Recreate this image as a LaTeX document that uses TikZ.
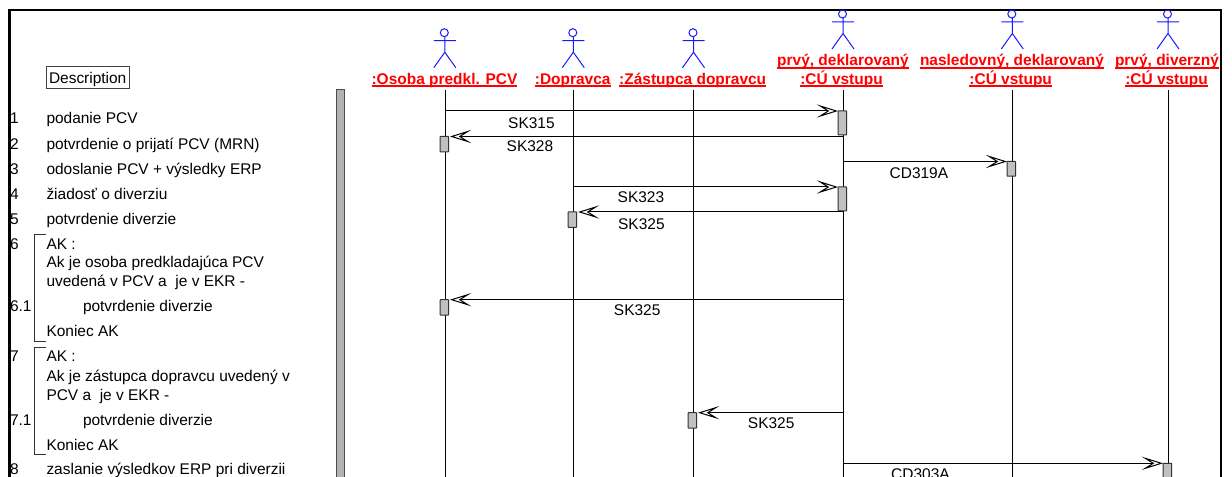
\documentclass[tikz,border=0pt]{standalone}
\usepackage{fontspec}
\setmainfont{Liberation Sans}
\usetikzlibrary{arrows.meta}
\definecolor{barfill}{RGB}{178,178,178}
\definecolor{actfill}{RGB}{192,192,192}
\tikzset{stick/.pic={
		\draw[blue!90!white, line width=0.75pt] (-0.5,0) circle (4);
		\draw[blue!90!white, line width=0.75pt] (0,4) -- (0,19.5) (-11,8) -- (11,8) (-11,35) -- (0,19.5) -- (11,35);
	}}
\tikzset{txt/.style={anchor=base west, inner sep=0, outer sep=0}}
\tikzset{objlbl/.style={anchor=base, inner sep=0, outer sep=0, text=red, font=\fontsize{11.6}{14}\selectfont\bfseries}}
\tikzset{lifeline/.style={draw, line width=0.75pt}}
\tikzset{actbox/.style={draw=black!80, fill=actfill, line width=0.75pt, inner sep=0, outer sep=0, minimum width=6.5pt, rounded corners=0.4pt, anchor=north west}}
\tikzset{msg/.style={draw, line width=0.75pt, -{Stealth[length=16pt, width=10pt, inset=8pt, fill=white]}}}
\tikzset{msgl/.style={msg, shorten >=1pt}}
\tikzset{brk/.style={draw=black!80, line width=0.75pt}}
\newlength{\ulwd}
\newcommand{\ul}[1]{\settowidth{\ulwd}{#1}#1\kern-\ulwd\rule[-2pt]{\ulwd}{1.1pt}}
\begin{document}
\begin{tikzpicture}[x=0.75pt, y=-0.75pt, every node/.style={font=\fontsize{11.6}{14}\selectfont}]
	\clip (0,0) rectangle (1232,477);
	\draw[line width=1.8pt] (9.5,477) -- (9.5,10) -- (1221,10) -- (1221,477);
	%
	\node[txt] (desc) at (49,84) {Description};
	\draw[draw=black!75, line width=0.75pt] (46,66.5) rectangle (129,89);
	\node[draw=black!70, fill=barfill, line width=0.75pt, inner sep=0, outer sep=0, minimum width=6.2pt, minimum height=291pt, anchor=north west] (divbar) at (336.3,90) {};
	%
	\node[txt] (n1) at (10,123.5) {1};
	\node[txt] (t1) at (46.5,123.5) {podanie PCV};
	\node[txt] (n2) at (10,149.5) {2};
	\node[txt] (t2) at (46.5,149.5) {potvrdenie o prijatí PCV (MRN)};
	\node[txt] (n3) at (10,174.5) {3};
	\node[txt] (t3) at (46.5,174.5) {odoslanie PCV + výsledky ERP};
	\node[txt] (n4) at (10,199.5) {4};
	\node[txt] (t4) at (46.5,199.5) {žiadosť o diverziu};
	\node[txt] (n5) at (10,224.5) {5};
	\node[txt] (t5) at (46.5,224.5) {potvrdenie diverzie};
	\node[txt] (n6) at (10,249.5) {6};
	\node[txt] (t6a) at (46.5,249.5) {AK :};
	\node[txt] (t6b) at (46.5,268) {Ak je osoba predkladajúca PCV};
	\node[txt] (t6c) at (46.5,287) {uvedená v PCV a\ \ je v EKR -};
	\node[txt] (n61) at (10,312) {6.1};
	\node[txt] (t61) at (83,312) {potvrdenie diverzie};
	\node[txt] (t6e) at (46.5,337) {Koniec AK};
	\node[txt] (n7) at (10,361.5) {7};
	\node[txt] (t7a) at (46.5,361.5) {AK :};
	\node[txt] (t7b) at (46.5,381.5) {Ak je zástupca dopravcu uvedený v};
	\node[txt] (t7c) at (46.5,400.5) {PCV a\ \ je v EKR -};
	\node[txt] (n71) at (10,425.5) {7.1};
	\node[txt] (t71) at (83,425.5) {potvrdenie diverzie};
	\node[txt] (t7e) at (46.5,450) {Koniec AK};
	\node[txt] (n8) at (10,474.5) {8};
	\node[txt] (t8) at (46.5,474.5) {zaslanie výsledkov ERP pri diverzii};
	\draw[brk] (46,235) -- (34.5,235) -- (34.5,342) -- (46,342);
	\draw[brk] (46,348) -- (34.5,348) -- (34.5,454.5) -- (46,454.5);
	%
	\pic (sosoba) at (444.8,32.7) {stick};
	\pic (sdopr) at (573.3,32.7) {stick};
	\pic (szast) at (693.5,32.7) {stick};
	\pic (sprvy) at (843,14) {stick};
	\pic (snasl) at (1012.3,14) {stick};
	\pic (sdiv) at (1168,14) {stick};
	%
	\node[objlbl] (osoba) at (444.5,84.3) {\ul{:Osoba predkl. PCV}};
	\node[objlbl] (dopr) at (572.7,84.3) {\ul{:Dopravca}};
	\node[objlbl] (zast) at (692.7,84.3) {\ul{:Zástupca dopravcu}};
	\node[objlbl] (prvyt) at (843,66) {\ul{prvý, deklarovaný}};
	\node[objlbl] (prvy) at (841.5,84.3) {\ul{:CÚ vstupu}};
	\node[objlbl] (naslt) at (1012,66) {\ul{nasledovný, deklarovaný}};
	\node[objlbl] (nasl) at (1010.7,84.3) {\ul{:CÚ vstupu}};
	\node[objlbl] (divt) at (1167,66) {\ul{prvý, diverzný}};
	\node[objlbl] (div) at (1166.5,84.3) {\ul{:CÚ vstupu}};
	%
	\coordinate (o1) at (445,90);
	\coordinate (o2) at (573.5,90);
	\coordinate (o3) at (693.5,90);
	\coordinate (o4) at (843,90);
	\coordinate (o5) at (1012.5,90);
	\coordinate (o6) at (1168,90);
	\coordinate (e1) at (445,477);
	\coordinate (e2) at (573.5,477);
	\coordinate (e3) at (693.5,477);
	\coordinate (e4) at (843,477);
	\coordinate (e5) at (1012.5,477);
	\coordinate (e6) at (1168,477);
	\draw[lifeline] (o1) -- (e1);
	\draw[lifeline] (o2) -- (e2);
	\draw[lifeline] (o3) -- (e3);
	\draw[lifeline] (o4) -- (e4);
	\draw[lifeline] (o5) -- (e5);
	\draw[lifeline] (o6) -- (e6);
	%
	\node[actbox, minimum height=18pt] (a1) at (838,111) {};
	\node[actbox, minimum height=11.5pt] (a2) at (440,136.5) {};
	\node[actbox, minimum height=11pt] (a3) at (1007,161.5) {};
	\node[actbox, minimum height=18pt] (a4) at (838,187) {};
	\node[actbox, minimum height=11.5pt] (a5) at (568,212) {};
	\node[actbox, minimum height=11.5pt] (a6) at (440,299.7) {};
	\node[actbox, minimum height=11.5pt] (a7) at (688,412.7) {};
	\node[actbox, minimum height=20pt] (a8) at (1163,463.3) {};
	%
	\draw[msg] (o1 |- a1.north) -- node[pos=0.22, below, yshift=-1.5pt] (l1) {SK315} (a1.north west);
	\draw[msgl] (o4 |- a2.north) -- node[pos=0.794, below, yshift=0.7pt] (l2) {SK328} (a2.north east);
	\draw[msg] (o4 |- a3.north) -- node[pos=0.463, below, yshift=-0.7pt] (l3) {CD319A} (a3.north west);
	\draw[msg] (o2 |- a4.north) -- node[pos=0.255, below] (l4) {SK323} (a4.north west);
	\draw[msgl] (o4 |- a5.north) -- node[pos=0.757, below, yshift=-1pt] (l5) {SK325} (a5.north east);
	\draw[msgl] (o4 |- a6.north) -- node[pos=0.522, below] (l6) {SK325} (a6.north east);
	\draw[msgl] (o4 |- a7.north) -- node[pos=0.491, below] (l7) {SK325} (a7.north east);
	\draw[msg] (o4 |- a8.north) -- node[pos=0.242, below] (l8) {CD303A} (a8.north west);
\end{tikzpicture}
\end{document}
